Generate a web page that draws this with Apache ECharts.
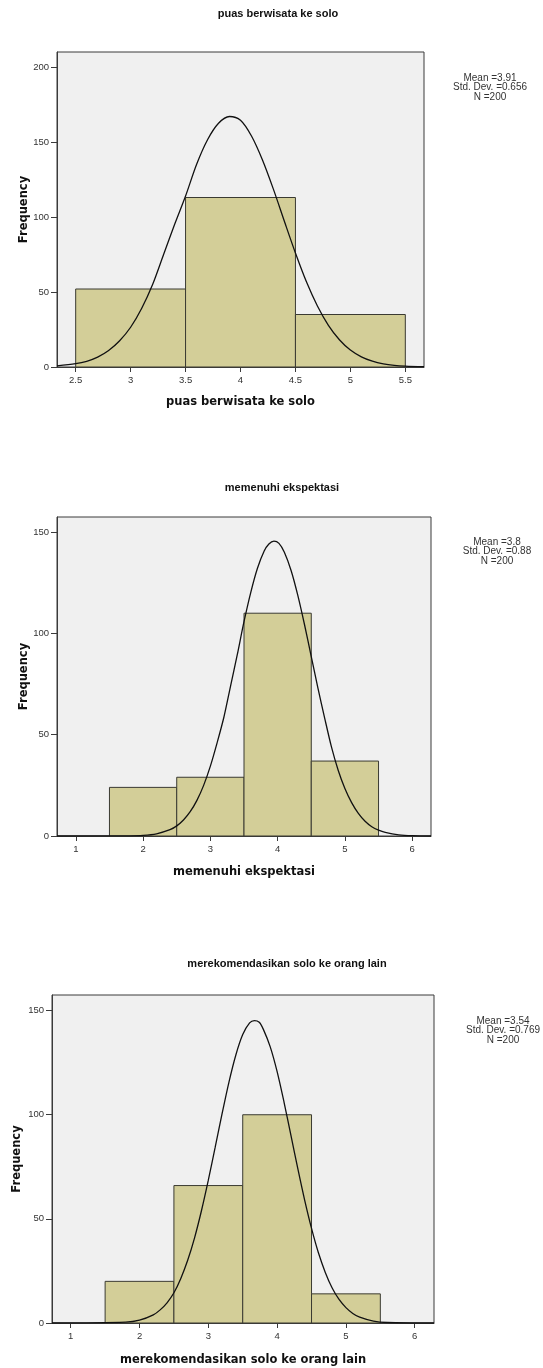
<!DOCTYPE html>
<html>
<head>
<meta charset="utf-8">
<script src="https://cdn.jsdelivr.net/npm/echarts@6/dist/echarts.min.js"></script>
<style>
html,body{margin:0;padding:0;background:#fff;}
#c{width:543px;height:1368px;}
</style>
</head>
<body>
<div id="c"></div>
<script>
// ---------- DATA ----------
const titles = ['puas berwisata ke solo', 'memenuhi ekspektasi', 'merekomendasikan solo ke orang lain'];
const xNames = ['puas berwisata ke solo', 'memenuhi ekspektasi', 'merekomendasikan solo ke orang lain'];
const stats = [
  ['Mean =3.91', 'Std. Dev. =0.656', 'N =200'],
  ['Mean =3.8', 'Std. Dev. =0.88', 'N =200'],
  ['Mean =3.54', 'Std. Dev. =0.769', 'N =200']
];
// histogram bins: [lower edge, upper edge, frequency]
const bins1 = [[2.5, 3.5, 52], [3.5, 4.5, 113], [4.5, 5.5, 35]];
const bins2 = [[1.5, 2.5, 24], [2.5, 3.5, 29], [3.5, 4.5, 110], [4.5, 5.5, 37]];
const bins3 = [[1.5, 2.5, 20], [2.5, 3.5, 66], [3.5, 4.5, 100], [4.5, 5.5, 14]];
// normal curve: [x, frequency]
const curve1 = [[2.33,0.8],[2.5,2.2],[2.6,3.8],[2.7,6.6],[2.8,11],[2.9,17.5],[3.0,26.5],[3.1,39],[3.2,55],[3.3,75],[3.4,95],[3.5,114],[3.6,135],[3.7,151.5],[3.8,162.5],[3.9,167],[4.0,164.5],[4.1,154],[4.2,138],[4.3,118.4],[4.4,97],[4.5,76],[4.6,56.8],[4.7,40.7],[4.8,27.8],[4.9,18.2],[5.0,11.3],[5.1,6.8],[5.2,3.9],[5.3,2.1],[5.4,1.1],[5.5,0.6],[5.67,0.2]];
const curve2 = [[0.72,0],[1.8,0.1],[2.0,0.3],[2.2,1.1],[2.4,3.1],[2.5,5],[2.6,7.9],[2.7,12],[2.8,17.6],[2.9,25],[3.0,34.5],[3.1,46],[3.2,58.5],[3.3,74],[3.4,89.5],[3.5,105.8],[3.6,120.2],[3.7,132.2],[3.8,140.7],[3.87,144.2],[3.945,145.6],[4.02,144.5],[4.1,140.1],[4.2,131.1],[4.3,118.8],[4.4,104.3],[4.5,88.6],[4.6,72.9],[4.7,58.1],[4.8,44],[4.9,32.5],[5.0,23.5],[5.1,16.5],[5.2,11.2],[5.3,7.3],[5.4,4.6],[5.5,2.9],[5.6,1.8],[5.8,0.6],[6.0,0.15],[6.28,0]];
const curve3 = [[0.728,0],[1.8,0.4],[2.0,1.35],[2.2,3.9],[2.3,6.3],[2.4,9.7],[2.5,14.5],[2.6,21.4],[2.7,30.1],[2.8,40.9],[2.9,53.9],[3.0,68.6],[3.1,84.4],[3.2,100.5],[3.3,115.7],[3.4,128.7],[3.5,138.5],[3.6,144.1],[3.67,145.2],[3.74,144.4],[3.8,141],[3.9,132.6],[4.0,120.7],[4.1,106.1],[4.2,90.2],[4.3,74.2],[4.4,59],[4.5,45.4],[4.6,33.7],[4.7,24.3],[4.8,16.8],[4.9,11.3],[5.0,7.4],[5.1,4.6],[5.2,2.8],[5.4,0.9],[5.6,0.25],[6.28,0]];
// axis ticks
const xTicks1 = [2.5, 3, 3.5, 4, 4.5, 5, 5.5];
const xTicks2 = [1, 2, 3, 4, 5, 6];
const xTicks3 = [1, 2, 3, 4, 5, 6];
const yTicks1 = [0, 50, 100, 150, 200];
const yTicks2 = [0, 50, 100, 150];
const yTicks3 = [0, 50, 100, 150];
const xRange = [[2.33, 5.67], [0.72, 6.28], [0.728, 6.28]];
const yMax = [210, 157.5, 157.5];

// ---------- STYLE / LAYOUT ----------
const grids = [
  {left: 57, top: 52, width: 367, height: 315},
  {left: 57, top: 517, width: 374, height: 319},
  {left: 52, top: 995, width: 382, height: 328}
];
const xNameGap = [29, 30, 31];
const yNameGap = [27, 27, 29];
const titlePos = [[278, 14], [282, 488], [287, 964]];
const statPos = [[490, 78], [497, 542], [503, 1021]];

const allBins = [bins1, bins2, bins3];
const allCurves = [curve1, curve2, curve3];
const allXTicks = [xTicks1, xTicks2, xTicks3];
const allYTicks = [yTicks1, yTicks2, yTicks3];

const axisColor = '#3a3a3a';
const labelStyle = {color: '#333', fontSize: 9.5, fontFamily: 'Liberation Sans, Arial, sans-serif'};
const nameStyle = {color: '#111', fontSize: 11.5, fontWeight: 'bold', fontFamily: 'DejaVu Sans, Verdana, sans-serif'};

const option = {
  animation: false,
  backgroundColor: '#ffffff',
  grid: grids.map(g => Object.assign({show: true, backgroundColor: '#f0f0f0', borderColor: axisColor, borderWidth: 1, containLabel: false, outerBoundsMode: 'none'}, g)),
  xAxis: grids.map((g, i) => ({
    type: 'value', gridIndex: i, min: xRange[i][0], max: xRange[i][1],
    name: xNames[i], nameLocation: 'middle', nameGap: xNameGap[i], nameTextStyle: nameStyle, nameMoveOverlap: false,
    axisLine: {show: true, onZero: false, lineStyle: {color: axisColor, width: 1}},
    axisTick: {show: true, length: 5, customValues: allXTicks[i], lineStyle: {color: axisColor}},
    axisLabel: {customValues: allXTicks[i], margin: 8, ...labelStyle},
    splitLine: {show: false}
  })),
  yAxis: grids.map((g, i) => ({
    type: 'value', gridIndex: i, min: 0, max: yMax[i],
    name: 'Frequency', nameLocation: 'middle', nameGap: yNameGap[i], nameTextStyle: nameStyle, nameMoveOverlap: false,
    axisLine: {show: true, lineStyle: {color: axisColor, width: 1}},
    axisTick: {show: true, length: 6, customValues: allYTicks[i], lineStyle: {color: axisColor}},
    axisLabel: {customValues: allYTicks[i], margin: 8, ...labelStyle},
    splitLine: {show: false}
  })),
  series: [],
  graphic: []
};

allBins.forEach((bins, i) => {
  option.series.push({
    type: 'custom', xAxisIndex: i, yAxisIndex: i, z: 2,
    encode: {x: [0, 1], y: 2},
    data: bins,
    renderItem: (params, api) => {
      const p0 = api.coord([api.value(0), api.value(2)]);
      const p1 = api.coord([api.value(1), 0]);
      return {
        type: 'rect',
        shape: {x: p0[0], y: p0[1], width: p1[0] - p0[0], height: p1[1] - p0[1]},
        style: {fill: '#d3ce98', stroke: '#3a3a32', lineWidth: 1}
      };
    }
  });
  option.series.push({
    type: 'line', xAxisIndex: i, yAxisIndex: i, z: 5,
    data: allCurves[i], smooth: 0.3, showSymbol: false,
    lineStyle: {color: '#111', width: 1.3}
  });
});

titles.forEach((t, i) => {
  option.graphic.push({
    type: 'text', x: titlePos[i][0], y: titlePos[i][1], z: 10,
    style: {text: t, textAlign: 'center', textVerticalAlign: 'middle', fill: '#111',
      font: 'bold 11px "Liberation Sans", Arial, sans-serif'}
  });
});
stats.forEach((lines, i) => {
  lines.forEach((s, k) => {
    option.graphic.push({
      type: 'text', x: statPos[i][0], y: statPos[i][1] + k * 9.5, z: 10,
      style: {text: s, textAlign: 'center', textVerticalAlign: 'middle', fill: '#333',
        font: '10px "Liberation Sans", Arial, sans-serif'}
    });
  });
});

const chart = echarts.init(document.getElementById('c'), null, {renderer: 'canvas'});
chart.setOption(option);
</script>
</body>
</html>
